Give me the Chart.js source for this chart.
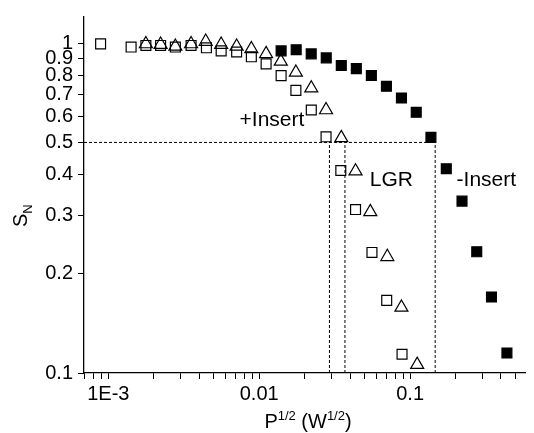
<!DOCTYPE html>
<html><head><meta charset="utf-8">
<script src="https://cdn.jsdelivr.net/npm/chart.js@4/dist/chart.umd.min.js"></script>
<style>html,body{margin:0;padding:0;background:#fff}#wrap{width:534px;height:433px}</style>
</head><body><div id="wrap"><canvas id="c" width="534" height="433"></canvas></div>
<script>
// ---- data ----
const plusInsertX = [0.000889,0.001416,0.001774,0.002221,0.002781,0.003536,0.004468,0.005595,0.007085,0.00887,0.01111,0.01397,0.0175,0.02214,0.02773,0.03473,0.04349,0.05587,0.06998,0.08842];
const plusInsertY = [0.995,0.973,0.984,0.984,0.973,0.984,0.968,0.947,0.940,0.909,0.865,0.797,0.719,0.627,0.520,0.411,0.313,0.232,0.166,0.114];
const lgrX = [0.001774,0.002221,0.002781,0.003536,0.004420,0.005595,0.007085,0.00887,0.01111,0.01390,0.0175,0.02214,0.02773,0.0350,0.04349,0.05447,0.07063,0.0876,0.1114];
const lgrY = [0.994,0.990,0.977,0.994,1.011,0.990,0.977,0.960,0.928,0.880,0.815,0.730,0.627,0.516,0.409,0.308,0.225,0.158,0.106];
const minusInsertX = [0.01397,0.01758,0.02211,0.02781,0.03499,0.04401,0.05537,0.06966,0.0876,0.1098,0.1374,0.1737,0.2208,0.2765,0.3462,0.4382];
const minusInsertY = [0.947,0.955,0.928,0.902,0.855,0.837,0.798,0.740,0.682,0.617,0.518,0.416,0.332,0.233,0.170,0.115];
const halfLevel = 0.5;
const guideX = [0.0292,0.0370,0.1466];   // vertical dotted guides (x where S_N = 0.5)
const xMin = 0.00069, xMax = 0.58, yMin = 0.1, yMax = 1.2;
const xTickValues = [7e-4,8e-4,9e-4,1e-3,2e-3,3e-3,4e-3,5e-3,6e-3,7e-3,8e-3,9e-3,0.01,0.02,0.03,0.04,0.05,0.06,0.07,0.08,0.09,0.1,0.2,0.3,0.4,0.5];
const xMajorValues = [0.001,0.01,0.1];
const xMajorLabels = ['1E-3','0.01','0.1'];
const yTickValues = [0.1,0.2,0.3,0.4,0.5,0.6,0.7,0.8,0.9,1];
const yTickLabels = ['0.1','0.2','0.3','0.4','0.5','0.6','0.7','0.8','0.9','1'];
const seriesNames = ['+Insert','LGR','-Insert'];
const annotations = [
  {text:'+Insert', x:0.01215, y:0.583},
  {text:'LGR', x:0.0752, y:0.384},
  {text:'-Insert', x:0.3199, y:0.384}
];

// ---- build ----
const FONT = '"Liberation Sans", Arial, Helvetica, sans-serif';
const pts = (xs, ys) => xs.map((x,i)=>({x, y:ys[i]}));
const dotted = (data) => ({type:'line', data, showLine:true, borderColor:'#000', borderWidth:1, borderDash:[3,2], pointRadius:0, fill:false, order:5});

const datasets = [
  dotted([{x:xMin,y:halfLevel},{x:guideX[2],y:halfLevel}]),
  ...guideX.map(gx => dotted([{x:gx,y:yMin},{x:gx,y:halfLevel}])),
  {label:seriesNames[0], data:pts(plusInsertX,plusInsertY), showLine:false, pointStyle:'rect', pointRadius:7, borderColor:'#000', backgroundColor:'rgba(0,0,0,0)', borderWidth:1.2, order:1},
  {label:seriesNames[1], data:pts(lgrX,lgrY), showLine:false, pointStyle:'triangle', pointRadius:7.5, borderColor:'#000', backgroundColor:'rgba(0,0,0,0)', borderWidth:1.2, order:1},
  {label:seriesNames[2], data:pts(minusInsertX,minusInsertY), showLine:false, pointStyle:'rect', pointRadius:7, borderColor:'#000', backgroundColor:'#000', borderWidth:1.2, order:1}
];

const textPlugin = {
  id:'texts',
  afterDraw(chart){
    const ctx = chart.ctx, xs = chart.scales.x, ys = chart.scales.y;
    ctx.save();
    ctx.fillStyle = '#000';
    ctx.textAlign = 'center'; ctx.textBaseline = 'middle';
    ctx.font = '21px ' + FONT;
    annotations.forEach(a => ctx.fillText(a.text, xs.getPixelForValue(a.x), ys.getPixelForValue(a.y)));
    // x title: P^{1/2} (W^{1/2})
    const parts = [['P',20,0],['1/2',13,-8],[' (W',20,0],['1/2',13,-8],[')',20,0]];
    ctx.textAlign = 'left'; ctx.textBaseline = 'alphabetic';
    let w = 0;
    parts.forEach(p => { ctx.font = p[1]+'px '+FONT; w += ctx.measureText(p[0]).width; });
    let cx = (chart.chartArea.left + chart.chartArea.right)/2 - 0 ;
    cx = 308 - w/2;
    const by = chart.chartArea.bottom + 55;
    parts.forEach(p => { ctx.font = p[1]+'px '+FONT; ctx.fillText(p[0], cx, by + p[2]); cx += ctx.measureText(p[0]).width; });
    // y title: S_N rotated
    ctx.translate(27, ys.getPixelForValue(0.3));
    ctx.rotate(-Math.PI/2);
    ctx.font = '20px '+FONT;
    const sw = ctx.measureText('S').width;
    ctx.font = '13px '+FONT;
    const nw = ctx.measureText('N').width;
    const start = -(sw+nw)/2;
    ctx.font = '20px '+FONT;
    ctx.fillText('S', start, 0);
    ctx.font = '13px '+FONT;
    ctx.fillText('N', start+sw, 5);
    ctx.restore();
  }
};

new Chart(document.getElementById('c'), {
  type:'scatter',
  data:{datasets},
  options:{
    responsive:false, devicePixelRatio:1, animation:false,
    layout:{padding:{top:9,right:1,left:0,bottom:0}},
    plugins:{legend:{display:false}, tooltip:{enabled:false}},
    scales:{
      x:{type:'logarithmic', min:xMin, max:xMax,
        afterBuildTicks:s => { s.ticks = xTickValues.map(v=>({value:v})); },
        afterFit:s => { s.height = 60; },
        ticks:{autoSkip:false, maxRotation:0, padding:3, color:'#000', font:{family:FONT, size:20},
          callback:(v) => { const i = xMajorValues.findIndex(m => Math.abs(m-v)/m < 1e-6); return i>=0 ? xMajorLabels[i] : ''; }},
        grid:{drawOnChartArea:false, drawTicks:true, tickLength:6, color:'#000', lineWidth:1},
        border:{color:'#000', width:1.3}
      },
      y:{type:'logarithmic', min:yMin, max:yMax,
        afterBuildTicks:s => { s.ticks = yTickValues.map(v=>({value:v})); },
        afterFit:s => { s.width = 84; },
        ticks:{autoSkip:false, padding:5, color:'#000', font:{family:FONT, size:20},
          callback:(v) => { const i = yTickValues.findIndex(m => Math.abs(m-v)/m < 1e-6); return i>=0 ? yTickLabels[i] : ''; }},
        grid:{drawOnChartArea:false, drawTicks:true, tickLength:6, color:'#000', lineWidth:1},
        border:{color:'#000', width:1.3}
      }
    }
  },
  plugins:[textPlugin]
});
</script></body></html>
